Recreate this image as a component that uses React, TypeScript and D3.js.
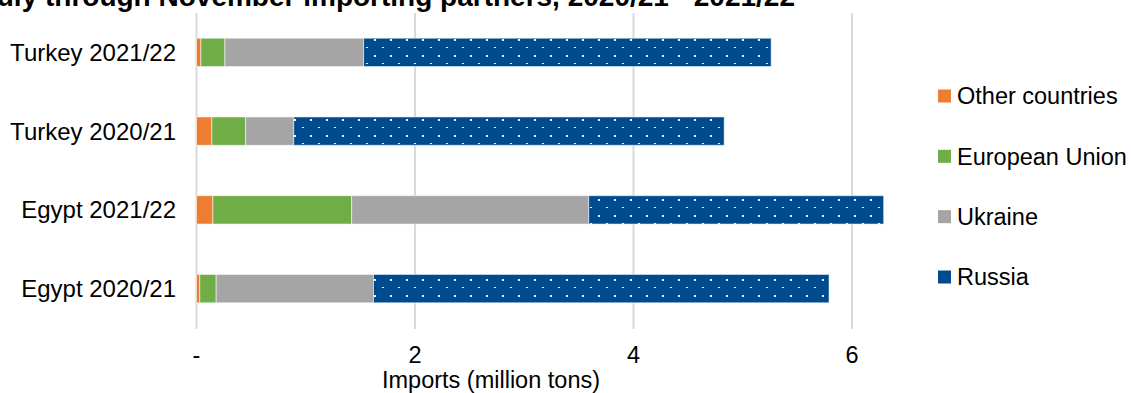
import React from "react";
import * as d3 from "d3";

const categories = ["Turkey 2021/22", "Turkey 2020/21", "Egypt 2021/22", "Egypt 2020/21"];
const otherCountries = [0.04, 0.14, 0.15, 0.03];
const europeanUnion = [0.22, 0.31, 1.27, 0.15];
const ukraine = [1.27, 0.44, 2.17, 1.44];
const russia = [3.73, 3.94, 2.7, 4.17];
const seriesNames = ["Other countries", "European Union", "Ukraine", "Russia"];
const seriesColors = ["#ED7D31", "#70AD47", "#A5A5A5", "#004B8D"];
const xTicks = [0, 2, 4, 6];
const xTickLabels = ["-", "2", "4", "6"];
const titleText = "July through November importing partners, 2020/21 - 2021/22";
const xAxisTitle = "Imports (million tons)";

const W = 1132;
const H = 393;
const FONT = "'Liberation Sans', Arial, sans-serif";

export default function App() {
  const rows = categories.map((c, i) => ({
    cat: c,
    "Other countries": otherCountries[i],
    "European Union": europeanUnion[i],
    Ukraine: ukraine[i],
    Russia: russia[i],
  }));
  const stack = d3.stack<any>().keys(seriesNames);
  const layers = stack(rows);

  const x = d3.scaleLinear().domain([0, 6.5]).range([196.5, 196.5 + 6.5 * 109.25]);
  const y = d3
    .scaleBand<string>()
    .domain(categories)
    .range([13, 328])
    .paddingInner(0.64)
    .paddingOuter(0.32);

  const legendY = d3.scalePoint<string>().domain(seriesNames).range([96, 277]);

  return (
    <svg
      width={W}
      height={H}
      style={{ position: "absolute", left: 0, top: 0, background: "#fff" }}
      fontFamily={FONT}
    >
      <defs>
        <pattern id="dots" patternUnits="userSpaceOnUse" width={16} height={16} x={0} y={0}>
          <rect width={16} height={16} fill="#004B8D" />
          <rect x={6} y={7} width={2} height={2} fill="#fff" />
          <rect x={14} y={15} width={2} height={2} fill="#fff" />
        </pattern>
      </defs>
      <rect width={W} height={H} fill="#fff" />
      <text x={795} y={6} textAnchor="end" fontWeight="bold" fontSize={28} fill="#000">
        {titleText}
      </text>
      {xTicks.map((t) => (
        <line key={t} x1={x(t)} x2={x(t)} y1={13} y2={329} stroke="#D9D9D9" strokeWidth={2} />
      ))}
      {layers.map((layer, li) => (
        <g key={layer.key}>
          {layer.map((d: any, i: number) => (
            <rect
              key={i}
              x={x(d[0])}
              width={Math.max(0, x(d[1]) - x(d[0]))}
              y={y(categories[i])}
              height={y.bandwidth()}
              fill={layer.key === "Russia" ? "url(#dots)" : seriesColors[li]}
              stroke="#ffffff"
              strokeOpacity={0.55}
              strokeWidth={1}
            />
          ))}
        </g>
      ))}
      {categories.map((c) => (
        <text
          key={c}
          x={176}
          y={(y(c) as number) + y.bandwidth() / 2}
          dy="0.35em"
          textAnchor="end"
          fontSize={24}
          fill="#000"
        >
          {c}
        </text>
      ))}
      {xTicks.map((t, i) => (
        <text key={t} x={x(t)} y={363} textAnchor="middle" fontSize={23.5} fill="#000">
          {xTickLabels[i]}
        </text>
      ))}
      <text x={491} y={388} textAnchor="middle" fontSize={23.5} fill="#000">
        {xAxisTitle}
      </text>
      {seriesNames.map((s, i) => (
        <g key={s} transform={`translate(938, ${legendY(s)})`}>
          <rect
            x={0}
            y={-6.5}
            width={13}
            height={13}
            fill={s === "Russia" ? "url(#dots)" : seriesColors[i]}
          />
          <text x={19} y={0} dy="0.35em" fontSize={23.5} fill="#000">
            {s}
          </text>
        </g>
      ))}
    </svg>
  );
}
